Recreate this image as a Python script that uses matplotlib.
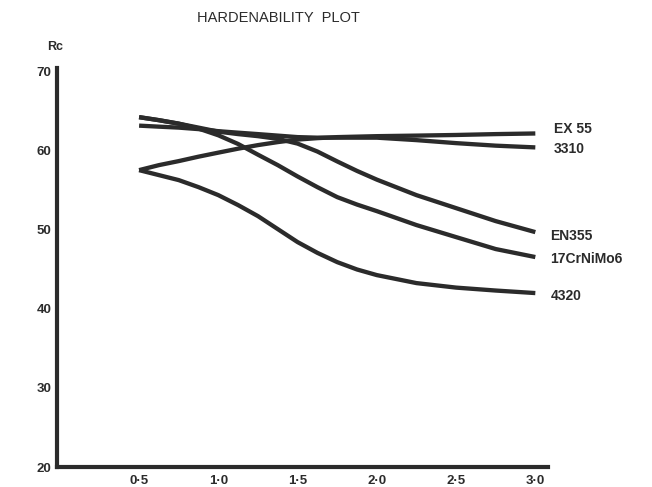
import matplotlib
matplotlib.use("Agg")
import matplotlib.pyplot as plt

# distance (in) and hardness (Rc)
distance = [0.5, 0.625, 0.75, 0.875, 1.0, 1.125, 1.25, 1.375, 1.5, 1.625,
            1.75, 1.875, 2.0, 2.25, 2.5, 2.75, 3.0]
ex55 = [57.5, 58.13, 58.64, 59.2, 59.71, 60.21, 60.66, 61.04, 61.36, 61.54,
        61.67, 61.73, 61.79, 61.86, 61.94, 62.05, 62.13]
s3310 = [63.12, 62.99, 62.87, 62.68, 62.42, 62.23, 62.05, 61.86, 61.67, 61.6,
         61.6, 61.6, 61.6, 61.29, 60.91, 60.59, 60.37]
en355 = [64.19, 63.81, 63.37, 62.87, 62.36, 62.05, 61.79, 61.45, 60.85, 59.85,
         58.6, 57.4, 56.3, 54.34, 52.7, 51.06, 49.67]
crnimo = [64.19, 63.81, 63.37, 62.75, 61.9, 60.8, 59.45, 58.13, 56.7, 55.35,
          54.09, 53.15, 52.32, 50.56, 49.04, 47.53, 46.52]
s4320 = [57.5, 56.87, 56.24, 55.35, 54.34, 53.08, 51.69, 50.05, 48.41, 47.05,
         45.88, 44.95, 44.24, 43.23, 42.66, 42.29, 41.97]

series = [ex55, s3310, en355, crnimo, s4320]
labels = ["EX 55", "3310", "EN355", "17CrNiMo6", "4320"]
label_offsets = [0.55, -0.15, -0.55, -0.2, -0.4]
label_dx = [0.115, 0.115, 0.095, 0.095, 0.095]

xticks = [0.5, 1.0, 1.5, 2.0, 2.5, 3.0]
xticklabels = ["0\u00b75", "1\u00b70", "1\u00b75", "2\u00b70", "2\u00b75", "3\u00b70"]
yticks = [20, 30, 40, 50, 60, 70]

ink = "#2b2b2b"
plt.rcParams['font.family'] = ['Liberation Sans', 'DejaVu Sans']

fig = plt.figure(figsize=(6.52, 4.87), dpi=100)
ax = fig.add_axes([57 / 652, 20 / 487, 491 / 652, 399 / 487])

for vals, lab, off, dx in zip(series, labels, label_offsets, label_dx):
    ax.plot(distance, vals, color=ink, lw=3.1, solid_capstyle='butt',
            solid_joinstyle='round')
    ax.text(distance[-1] + dx, vals[-1] + off, lab, color=ink, fontsize=10,
            fontweight='bold', va='center', ha='left', clip_on=False)

ax.set_xlim(-0.018, 3.08)
ax.set_ylim(20, 70.4)
for side in ['top', 'right']:
    ax.spines[side].set_visible(False)
for side in ['left', 'bottom']:
    ax.spines[side].set_linewidth(3.0)
    ax.spines[side].set_color(ink)

ax.set_xticks(xticks)
ax.set_xticklabels(xticklabels)
ax.set_yticks(yticks)
ax.set_yticklabels([str(v) for v in yticks])
ax.tick_params(axis='both', length=0, labelsize=9.5, labelcolor=ink)
ax.tick_params(axis='x', pad=6)
ax.tick_params(axis='y', pad=4)
for t in ax.get_xticklabels() + ax.get_yticklabels():
    t.set_fontweight('bold')

fig.text(278 / 652, 1 - 18 / 487, "HARDENABILITY  PLOT", ha='center', va='center',
         fontsize=10.5, color=ink)
fig.text(55 / 652, 1 - 47 / 487, "Rc", ha='center', va='center',
         fontsize=9, color=ink, fontweight='bold')

fig.savefig("out.png", dpi=100, facecolor='white')
